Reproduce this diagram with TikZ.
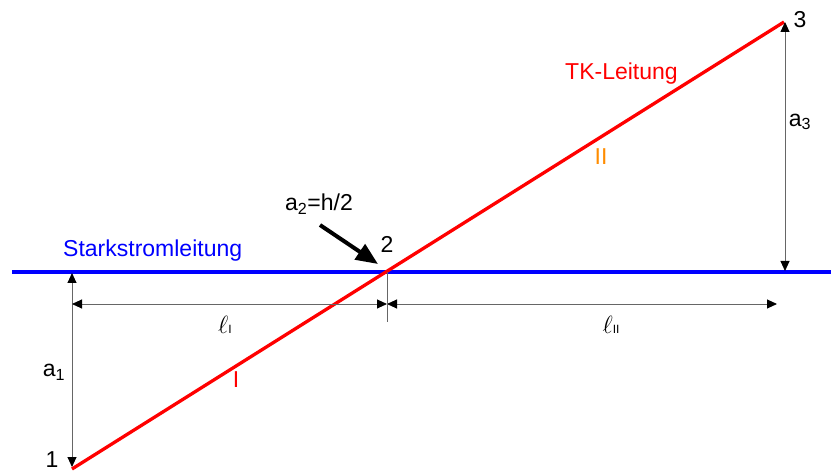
\documentclass[tikz,border=0pt]{standalone}
\usepackage{fontspec}
\setmainfont{Liberation Sans}
\usetikzlibrary{arrows.meta}

\begin{document}
\begin{tikzpicture}[
  x=1pt, y=-1pt,
  every node/.style={inner sep=0pt, font=\fontsize{23}{26}\selectfont},
  dimline/.style={{Triangle[length=10pt, width=9pt, color=black]}-{Triangle[length=10pt, width=9pt, color=black]}, draw=black!60, line width=0.9pt},
  power/.style={draw={rgb,255:red,0;green,0;blue,255}, line width=4pt},
  tk/.style={draw={rgb,255:red,255;green,0;blue,0}, line width=3.3pt}
]
\useasboundingbox (0,0) rectangle (831,473);

% Leitungen
\coordinate (bl) at (12,272);
\coordinate (br) at (831,272);
\coordinate (p1) at (72,469);
\coordinate (p2) at (387,272);
\coordinate (p3) at (784,22);
\draw[power] (bl) -- (br);
\draw[tk] (p1) -- (p3);

% Abstaende
\coordinate (a1top) at (72,273);
\coordinate (a1bot) at (72,467);
\coordinate (a3top) at (785,22);
\coordinate (a3bot) at (785,271);
\coordinate (lleft) at (72,304);
\coordinate (lmid) at (387,304);
\coordinate (lright) at (777,304);
\coordinate (tickend) at (387,322);
\draw[dimline] (a1top) -- (a1bot);
\draw[dimline] (a3top) -- (a3bot);
\draw[dimline] (lleft) -- (lmid);
\draw[dimline] (lmid) -- (lright);
\draw[draw=black!60, line width=0.9pt] (p2) -- (tickend);

% Beschriftung
\node[text={rgb,255:red,0;green,0;blue,255}, anchor=base west] (stark) at (63,257) {Starkstromleitung};
\node[text={rgb,255:red,255;green,0;blue,0}, anchor=base west] (tkl) at (565,80) {TK-Leitung};
\node[text={rgb,255:red,255;green,0;blue,0}] (one) at (236,380) {I};
\node[text={rgb,255:red,255;green,140;blue,0}] (two) at (601,157) {II};
\node (n1) at (52,460) {1};
\node (n2) at (387,244) {2};
\node (n3) at (800,20) {3};
\node (a1) at (54,372) {a\textsubscript{1}};
\node (a3) at (800,122) {a\textsubscript{3}};
\node[anchor=base west] (a2) at (285,211) {a\textsubscript{2}=h/2};
\node (l1) at (225,325) {{\fontsize{24}{26}\selectfont$\ell$}{\fontsize{12}{13}\selectfont I}};
\node (l2) at (611,325) {{\fontsize{24}{26}\selectfont$\ell$}{\fontsize{12}{13}\selectfont II}};

% Pfeil auf Punkt 2
\coordinate (hstart) at (320,225);
\coordinate (htip) at (378,264);
\draw[-{Triangle[length=22pt, width=18pt]}, line width=4pt] (hstart) -- (htip);
\end{tikzpicture}
\end{document}
